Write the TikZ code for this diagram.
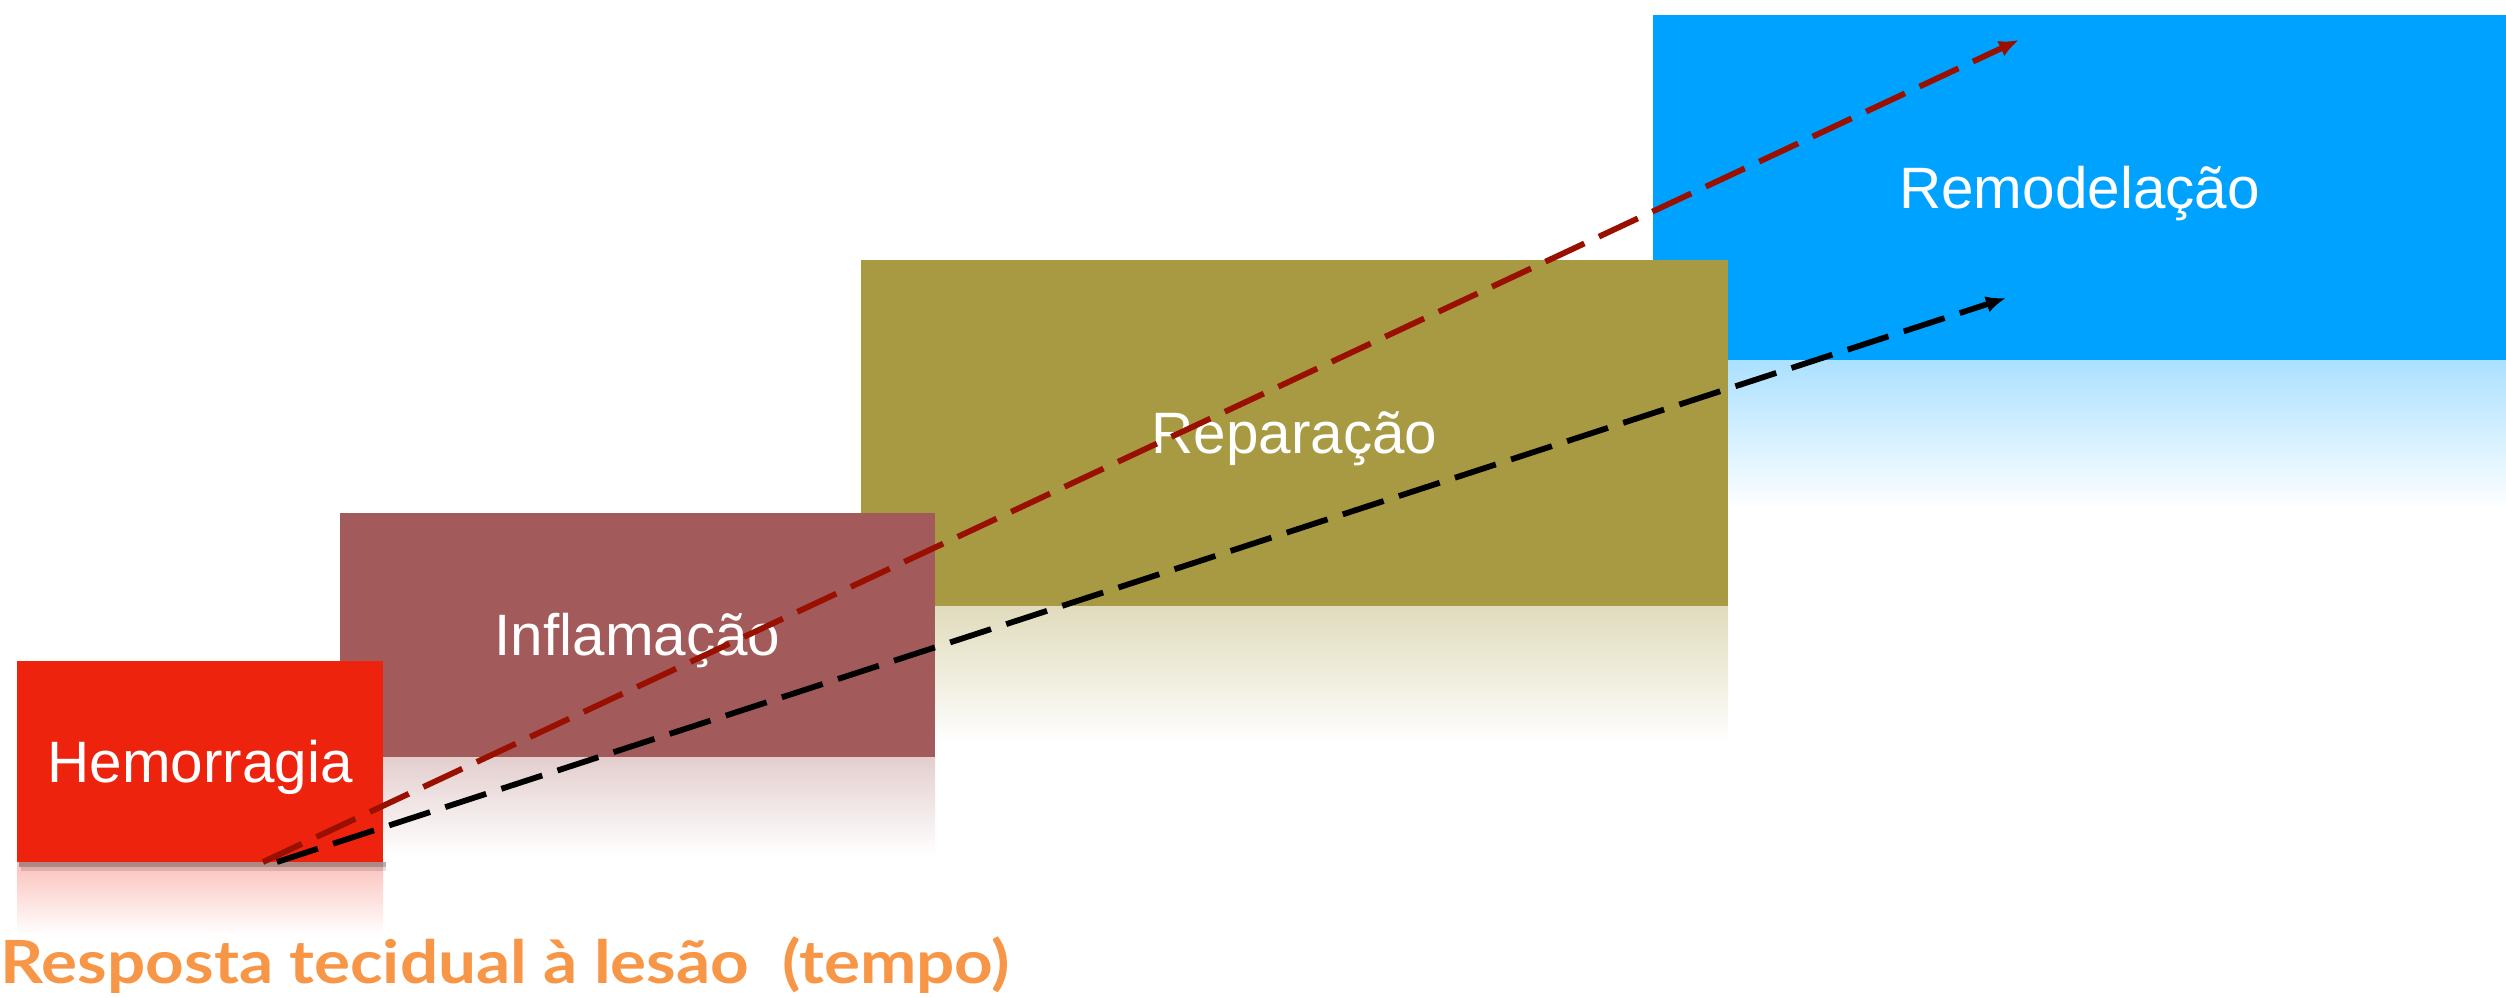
\documentclass[tikz,border=0pt]{standalone}
\usepackage{fontspec}
\setmainfont{Liberation Sans}
\newfontfamily\titlefont{Lato}
\usetikzlibrary{arrows.meta}
\definecolor{hemo}{RGB}{238,35,14}
\definecolor{infl}{RGB}{163,90,90}
\definecolor{repa}{RGB}{168,154,66}
\definecolor{remo}{RGB}{0,162,255}
\definecolor{darkred}{RGB}{154,16,0}
\definecolor{orangetxt}{RGB}{247,150,70}
\tikzset{
  phase/.style={rectangle, inner sep=0pt, text=white, text height=10.45pt, text depth=0pt,
    font=\fontsize{14.6}{17}\selectfont},
  flow/.style={line width=1.45pt, dash pattern=on 10.75pt off 4pt,
    -{Latex[length=5pt,width=4.2pt]}},
}
\begin{document}
\begin{tikzpicture}[x=0.25pt,y=-0.25pt]
\useasboundingbox (0,0) rectangle (2506,997);
% Remodelacao
\shade[top color=remo!33!white, bottom color=white] (1653,360) rectangle (2506,510);
\node[phase, fill=remo, minimum width=213.25pt, minimum height=86.25pt] (remo) at (2079.5,187.5) {Remodelação};
% Reparacao
\shade[top color=repa!35!white, bottom color=white] (861,606) rectangle (1728,745);
\node[phase, fill=repa, minimum width=216.75pt, minimum height=86.5pt] (repa) at (1294.5,433) {Reparação};
% Inflamacao
\shade[top color=infl!30!white, bottom color=white] (340,757) rectangle (935,855);
\node[phase, fill=infl, minimum width=148.75pt, minimum height=61pt] (infl) at (637.5,635) {Inflamação};
% Hemorragia
\shade[top color=hemo!28!white, bottom color=white] (17,862) rectangle (383,935);
\fill[black, opacity=0.3] (19,862) rectangle (386,867);
\fill[black, opacity=0.12] (21,867) rectangle (386,871);
\node[phase, fill=hemo, minimum width=91.5pt, minimum height=50.25pt] (hemo) at (200,761.5) {Hemorragia};
% arrows
\coordinate (rs) at (263,862);
\coordinate (bs) at (277,862);
\coordinate (rt) at (2019,40);
\coordinate (bt) at (2006,298);
\draw[flow, darkred] (rs) -- (rt);
\draw[flow, black] (bs) -- (bt);
% title
\node[anchor=base west, inner sep=0pt, text=orangetxt, font=\titlefont\bfseries\fontsize{14.9}{17}\selectfont] (title) at (0,983) {\scalebox{1.13}[1]{Resposta tecidual à lesão\ \ (tempo)}};
\end{tikzpicture}
\end{document}
